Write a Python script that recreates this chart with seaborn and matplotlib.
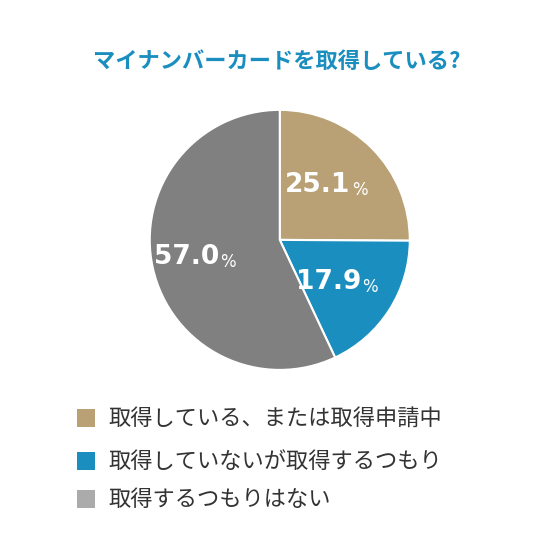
import matplotlib
matplotlib.use("Agg")
import matplotlib.pyplot as plt
import seaborn as sns
import numpy as np
from matplotlib.patches import Rectangle

sns.set_theme(style="white")
plt.rcParams['font.family'] = ['Noto Sans CJK JP', 'DejaVu Sans']

title = "マイナンバーカードを取得している?"
categories = ["取得している、または取得申請中", "取得していないが取得するつもり", "取得するつもりはない"]
values = [25.1, 17.9, 57.0]
colors = ["#B9A175", "#1A8FBF", "#808080"]
legend_colors = ["#B9A175", "#1A8FBF", "#ABABAB"]

fig = plt.figure(figsize=(5.54, 5.54), dpi=100)
fig.patch.set_facecolor("white")
fig.text(0.5, 1 - 62 / 554, title, ha="center", va="center", fontsize=16,
         fontweight="bold", color="#1A8FBF")

ax = fig.add_axes([0.505 - 0.2347, 0.567 - 0.2347, 0.4694, 0.4694])
wedges, _ = ax.pie(values, colors=colors, startangle=90, counterclock=False,
                   wedgeprops=dict(edgecolor="white", linewidth=1.5))
ax.set_xlim(-1, 1)
ax.set_ylim(-1, 1)
ax.set_aspect("equal")
for w, v in zip(wedges, values):
    ang = np.deg2rad((w.theta1 + w.theta2) / 2)
    r = 0.6
    x, y = r * np.cos(ang), r * np.sin(ang)
    ax.text(x + 0.12, y, f"{v:.1f}", ha="right", va="center", fontsize=19,
            fontweight="bold", color="white", family="DejaVu Sans")
    ax.text(x + 0.13, y - 0.04, "%", ha="left", va="center", fontsize=12,
            color="white", family="DejaVu Sans")

ys = [418, 461, 499]
for c, lab, y in zip(legend_colors, categories, ys):
    fig.patches.append(Rectangle((77 / 554, 1 - (y + 9) / 554), 18 / 554, 18 / 554,
                                 transform=fig.transFigure, facecolor=c,
                                 edgecolor="none"))
    fig.text(108 / 554, 1 - y / 554, lab, ha="left", va="center", fontsize=16,
             color="#333333")

fig.savefig("out.png", dpi=100, facecolor="white")
